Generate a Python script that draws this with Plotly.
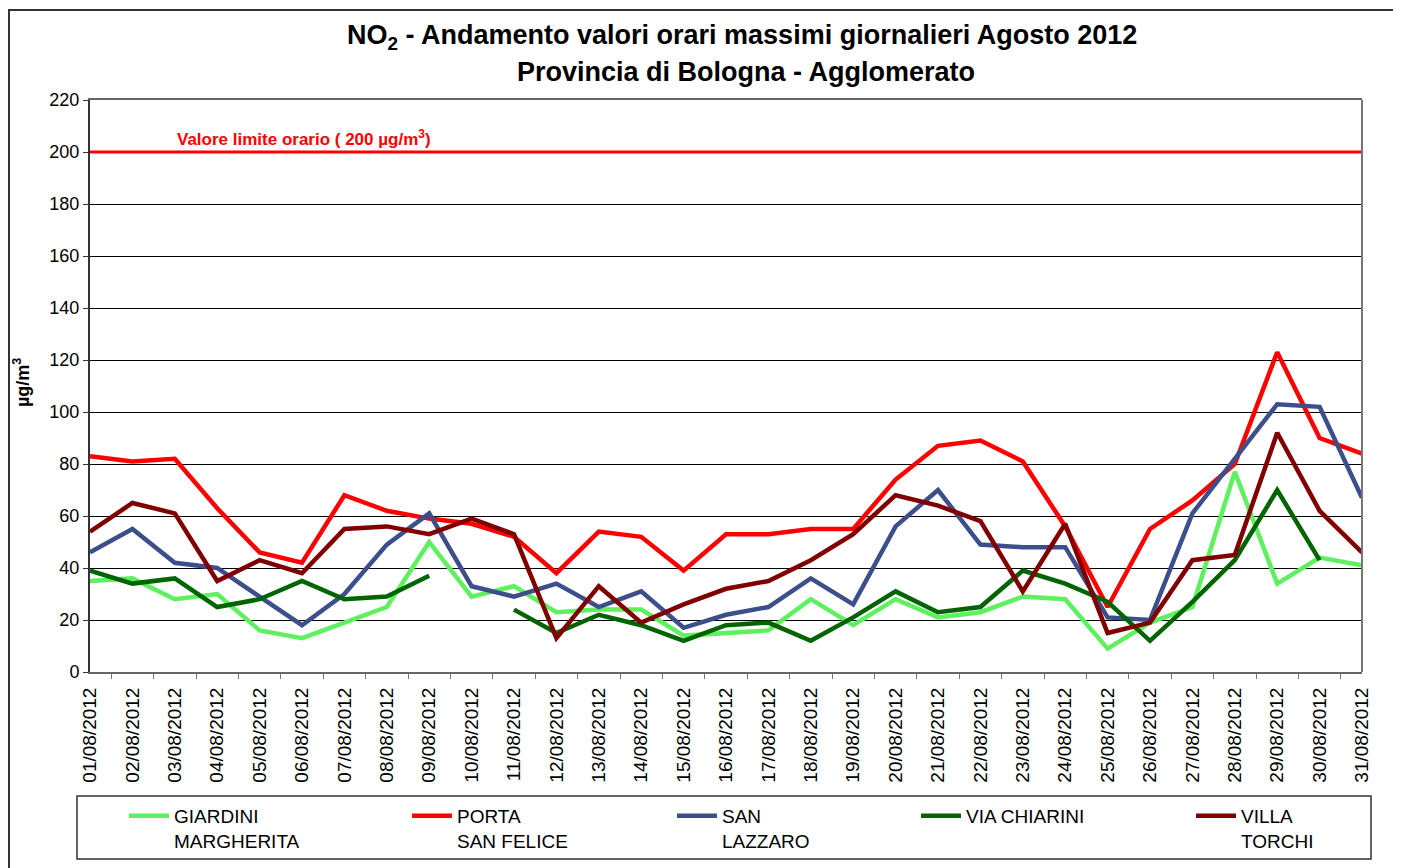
import plotly.graph_objects as go

# ---------------- data ----------------
dates = [f"{d:02d}/08/2012" for d in range(1, 32)]

giardini_margherita = [35, 36, 28, 30, 16, 13, 19, 25, 50, 29, 33, 23, 24, 24, 14, 15,
                       16, 28, 18, 28, 21, 23, 29, 28, 9, 19, 25, 77, 34, 44, 41]
porta_san_felice = [83, 81, 82, 63, 46, 42, 68, 62, 59, 57, 52, 38, 54, 52, 39, 53,
                    53, 55, 55, 74, 87, 89, 81, 56, 25, 55, 66, 80, 123, 90, 84]
san_lazzaro = [46, 55, 42, 40, 29, 18, 30, 49, 61, 33, 29, 34, 25, 31, 17, 22,
               25, 36, 26, 56, 70, 49, 48, 48, 21, 20, 61, 82, 103, 102, 67]
via_chiarini = [39, 34, 36, 25, 28, 35, 28, 29, 37, None, 24, 15, 22, 18, 12, 18,
                19, 12, 21, 31, 23, 25, 39, 34, 27, 12, 27, 43, 70, 43, None]
villa_torchi = [54, 65, 61, 35, 43, 38, 55, 56, 53, 59, 53, 13, 33, 19, 26, 32,
                35, 43, 53, 68, 64, 58, 31, 57, 15, 19, 43, 45, 92, 62, 46]

series_names = ["GIARDINI<br>MARGHERITA", "PORTA<br>SAN FELICE", "SAN<br>LAZZARO",
                "VIA CHIARINI", "VILLA<br>TORCHI"]
series_values = [giardini_margherita, porta_san_felice, san_lazzaro, via_chiarini, villa_torchi]
series_colors = ["#5FF05F", "#FF0000", "#3D4F8A", "#006400", "#800000"]

limit_value = 200
limit_label = "Valore limite orario ( 200 µg/m<sup>3</sup>)"
title_line1 = "NO<sub>2</sub> - Andamento valori orari massimi giornalieri Agosto 2012"
title_line2 = "Provincia di Bologna - Agglomerato"
y_title = "µg/m<sup>3</sup>"
y_ticks = list(range(0, 221, 20))

# ---------------- layout helpers ----------------
# The page body has an 8px margin, so the figure is drawn at (8, 8) in the window.
OFF = 8
W, H = 1401 - OFF, 868 - OFF
# plot area in window (reference) pixels
PL, PR, PT, PB = 90, 1362, 100, 672


def px_x(px):
    return (px - PL) / (PR - PL)


def px_y(py):
    return (PB - py) / (PB - PT)


FONT = "Liberation Sans, Arial, sans-serif"

fig = go.Figure()

legend_ids = ["legend", "legend2", "legend3", "legend4", "legend5"]
legend_text_px = [175, 458, 723, 967, 1242]

for name, vals, col, lid in zip(series_names, series_values, series_colors, legend_ids):
    fig.add_trace(go.Scatter(
        x=dates, y=vals, name=name, mode="lines",
        line=dict(color=col, width=4.5),
        connectgaps=False, legend=lid,
    ))

# limit line
fig.add_shape(type="line", xref="paper", yref="y", x0=0, x1=1,
              y0=limit_value, y1=limit_value, line=dict(color="#FF0000", width=3))

# plot right border
fig.add_shape(type="line", xref="paper", yref="paper", x0=1, x1=1, y0=0, y1=1,
              line=dict(color="#777777", width=2))

# outer chart border
fig.add_shape(type="rect", xref="paper", yref="paper",
              x0=px_x(9), x1=px_x(1430), y0=px_y(900), y1=px_y(10),
              line=dict(color="#333333", width=2), layer="below")

# legend box
fig.add_shape(type="rect", xref="paper", yref="paper",
              x0=px_x(77), x1=px_x(1371), y0=px_y(859), y1=px_y(796),
              line=dict(color="#333333", width=1.5))

fig.add_annotation(text=f"<b>{limit_label}</b>", xref="paper", yref="y",
                   x=px_x(175), y=limit_value, xanchor="left", yanchor="bottom",
                   yshift=1, showarrow=False,
                   font=dict(family=FONT, size=17, color="#FF0000"))

fig.add_annotation(text=f"<b>{y_title}</b>", xref="paper", yref="paper",
                   x=px_x(21), y=px_y(383), xanchor="center", yanchor="middle",
                   textangle=-90, showarrow=False,
                   font=dict(family=FONT, size=18, color="black"))

fig.add_annotation(text=f"<b>{title_line1}</b>", xref="paper", yref="paper",
                   x=px_x(742), y=px_y(37), xanchor="center", yanchor="middle",
                   showarrow=False, font=dict(family=FONT, size=27, color="black"))
fig.add_annotation(text=f"<b>{title_line2}</b>", xref="paper", yref="paper",
                   x=px_x(746), y=px_y(72), xanchor="center", yanchor="middle",
                   showarrow=False, font=dict(family=FONT, size=27, color="black"))

layout_legends = {}
for lid, tx in zip(legend_ids, legend_text_px):
    layout_legends[lid] = dict(
        x=px_x(tx - 51), y=px_y(797), xanchor="left", yanchor="top",
        bgcolor="rgba(0,0,0,0)", borderwidth=0, orientation="v",
        font=dict(family=FONT, size=19, color="black"),
        itemwidth=40, valign="top",
    )

fig.update_layout(
    width=W, height=H,
    margin=dict(l=PL - OFF, r=W - (PR - OFF), t=PT - OFF, b=H - (PB - OFF),
                autoexpand=False),
    paper_bgcolor="white", plot_bgcolor="white",
    font=dict(family=FONT, color="black"),
    xaxis=dict(
        type="category", tickangle=-90, tickfont=dict(family=FONT, size=19, color="black"),
        showgrid=False, showline=True, linecolor="#666666", linewidth=2, mirror=True,
        ticks="outside", tickson="boundaries", ticklen=5, tickcolor="#777777",
        zeroline=False, ticklabelstandoff=6, automargin=False,
    ),
    yaxis=dict(
        range=[0, 220], tickvals=y_ticks, tickfont=dict(family=FONT, size=18, color="black"),
        showgrid=True, gridcolor="black", gridwidth=1,
        showline=True, linecolor="#333333", linewidth=2,
        ticks="outside", ticklen=5, tickcolor="#333333", zeroline=False,
        automargin=False,
    ),
    showlegend=True,
    **layout_legends,
)

fig.write_html("out.html")
